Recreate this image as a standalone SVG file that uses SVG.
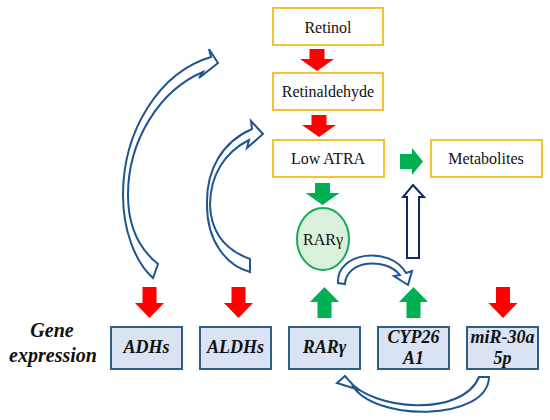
<svg xmlns="http://www.w3.org/2000/svg" width="550" height="420" viewBox="0 0 550 420">
<style>
.yb{fill:#fff;stroke:#F2C230;stroke-width:2}
.bb{fill:#DAE3F3;stroke:#2F5F80;stroke-width:2}
text{font-family:'Liberation Serif','DejaVu Serif','Times New Roman',serif;fill:#111;text-anchor:middle}
.yt{font-size:16px}
.bt{font-size:18px;font-weight:bold;font-style:italic}
.gt{font-size:20px;font-weight:bold;font-style:italic}
.red{fill:#FF0000}
.grn{fill:#00B050}
.curv{fill:#fff;stroke:#1F5591;stroke-width:2;stroke-linejoin:miter}
.nav{fill:#fff;stroke:#0E2A6B;stroke-width:2}
</style>
<defs>
<path id="dn" d="M-7,0 H7 V16 H14.5 L0,31 L-14.5,16 H-7 Z"/>
<path id="up" d="M-7,31 H7 V15 H14.5 L0,0 L-14.5,15 H-7 Z"/>
<path id="dnS" d="M-7.5,0 H7.5 V10 H17 L0,22 L-17,10 H-7.5 Z"/>
</defs>
<rect width="550" height="420" fill="#fff"/>

<g id="retinol"><rect class="yb" x="273" y="8" width="110" height="37"/><text class="yt" x="328" y="33">Retinol</text></g>
<g id="retinaldehyde"><rect class="yb" x="273" y="73" width="110" height="37"/><text class="yt" x="328" y="97">Retinaldehyde</text></g>
<g id="lowatra"><rect class="yb" x="273" y="140" width="111" height="37"/><text class="yt" x="328" y="164">Low ATRA</text></g>
<g id="metabolites"><rect class="yb" x="431" y="140" width="111" height="37"/><text class="yt" x="486" y="164">Metabolites</text></g>
<g id="rarg-protein"><ellipse cx="323" cy="239" rx="26" ry="31" fill="#D9F1DA" stroke="#1AAA5A" stroke-width="2"/><text class="yt" x="323" y="245">RARγ</text></g>

<g id="gene-expression"><text class="gt" x="52" y="337">Gene</text><text class="gt" x="53" y="362">expression</text></g>
<g id="adhs"><rect class="bb" x="111" y="327" width="71" height="42"/><text class="bt" x="146.5" y="353">ADHs</text></g>
<g id="aldhs"><rect class="bb" x="200" y="327" width="71" height="42"/><text class="bt" x="235.5" y="353">ALDHs</text></g>
<g id="rarg-gene"><rect class="bb" x="289" y="327" width="71" height="42"/><text class="bt" x="324.5" y="353">RARγ</text></g>
<g id="cyp26a1"><rect class="bb" x="378" y="327" width="71" height="42"/><text class="bt" x="413.5" y="343">CYP26</text><text class="bt" x="413.5" y="364">A1</text></g>
<g id="mir30a"><rect class="bb" x="467" y="327" width="71" height="42"/><text class="bt" x="502.5" y="343">miR-30a</text><text class="bt" x="502.5" y="364">5p</text></g>

<g id="connectors">
<use href="#dnS" class="red" x="317" y="49"/>
<use href="#dnS" class="red" x="319" y="115"/>
<use href="#dnS" class="grn" x="322.5" y="183"/>
<path class="grn" d="M400,154 H412 V148 L423,161.5 L412,175 V169 H400 Z"/>
<path class="nav" d="M407,258 V197 H403 L413,185 L424,197 H419 V258 Z"/>
<use href="#dn" class="red" x="149.5" y="287"/>
<use href="#dn" class="red" x="238.5" y="287"/>
<use href="#up" class="grn" x="324.5" y="287"/>
<use href="#up" class="grn" x="413.5" y="287"/>
<use href="#dn" class="red" x="503" y="287"/>
<path class="curv" d="M158,264 L153,278 C135,262 123,230 123,195 C123,130 160,72 211,57 L209,49 L218,63 L199,78 L203,72 C160,90 128,140 128,195 C128,225 138,248 158,264 Z"/>
<path class="curv" d="M250,259 L250,272 C225,265 207,240 207,205 C206,170 222,142 252,129 L251,121 L263,134 L247,148 L249,140 C225,152 210,175 210,205 C211,232 225,250 250,259 Z"/>
<path class="curv" d="M338,283 C336,252 390,245 406,273 L412,271 L408,285 L394,276 L400,275 C386,257 346,260 345,284 Z"/>
<path class="curv" d="M479,377 L489,377 C488,422 372,422 352,384.5 L356,389 L337,383 L345,376 L349,380.6 C372,410 462,418 479,377 Z"/>
</g>
</svg>
